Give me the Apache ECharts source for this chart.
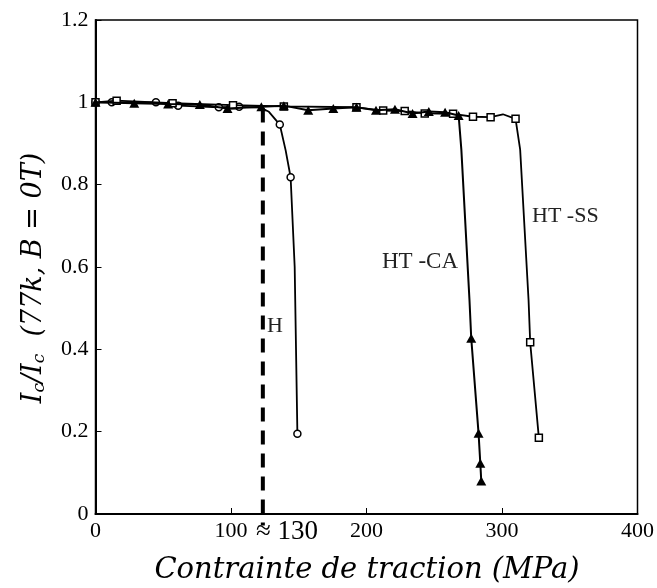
<!DOCTYPE html>
<html>
<head>
<meta charset="utf-8">
<script src="https://cdn.jsdelivr.net/npm/echarts@6/dist/echarts.min.js"></script>
<style>html,body{margin:0;padding:0;background:#fff}#c{width:657px;height:588px}</style>
</head>
<body>
<div id="c"></div>
<script>
// ---- data ----
// H (open circles); marked: 1 = drawn with a marker, 0 = curve point only
const H_x = [0, 12, 44.6, 61, 91, 106, 122, 128, 136, 140.3, 144, 147, 149];
const H_y = [1.0, 1.0, 1.0, 0.992, 0.988, 0.989, 0.987, 0.977, 0.946, 0.884, 0.818, 0.6, 0.195];
const H_m = [1, 1, 1, 1, 1, 1, 0, 0, 1, 0, 1, 0, 1];

// HT-CA (filled triangles)
const CA_x = [0, 28.6, 53.6, 77, 97.4, 122.4, 139, 157, 175.5, 192.6, 207, 221, 234, 246, 258, 268, 270, 276, 277.3, 282.7, 284, 284.7];
const CA_y = [1.0, 0.998, 0.996, 0.995, 0.985, 0.989, 0.992, 0.981, 0.985, 0.988, 0.981, 0.983, 0.973, 0.978, 0.976, 0.968, 0.885, 0.52, 0.427, 0.196, 0.123, 0.080];
const CA_m = [1, 1, 1, 1, 1, 1, 1, 1, 1, 1, 1, 1, 1, 1, 1, 1, 0, 0, 1, 1, 1, 1];

// HT-SS (open squares)
const SS_x = [0, 15.6, 56.9, 101.5, 139, 192.6, 212.3, 228.2, 243, 263.9, 278.6, 291.6, 300.7, 310, 313.4, 319.6, 320.8, 327.2];
const SS_y = [1.0, 1.004, 0.998, 0.993, 0.99, 0.988, 0.98, 0.979, 0.973, 0.972, 0.965, 0.964, 0.971, 0.96, 0.885, 0.52, 0.417, 0.185];
const SS_m = [1, 1, 1, 1, 1, 1, 1, 1, 1, 1, 1, 1, 0, 1, 0, 0, 1, 1];

// dashed threshold line
const DASH_X = 123.5;
const DASH_Y = [0.985, -0.028];

const X_TICKS = [0, 100, 200, 300, 400];
const Y_MAX = 1.2;
const SERIES_NAMES = ['H', 'HT-SS', 'HT-CA'];

function build(xs, ys, ms) {
  return xs.map((x, i) => ms[i] ? [x, ys[i]] : { value: [x, ys[i]], symbol: 'none' });
}

const chart = echarts.init(document.getElementById('c'), null, { renderer: 'canvas' });
const SERIF = '"Liberation Serif", "Times New Roman", serif';
const MATH = '"DejaVu Serif", serif';

const gridL = 95.5, gridR = 18.5, gridT = 20, gridB = 74;

chart.setOption({
  animation: false,
  backgroundColor: '#fff',
  grid: { left: gridL, right: gridR, top: gridT, bottom: gridB, show: true, borderColor: '#000', borderWidth: 1.5, backgroundColor: 'transparent' },
  xAxis: {
    type: 'value', min: X_TICKS[0], max: X_TICKS[X_TICKS.length - 1], interval: 100,
    axisLine: { show: true, onZero: false, lineStyle: { color: '#000', width: 2 } },
    axisTick: { show: true, inside: true, length: 6, lineStyle: { color: '#000', width: 1 } },
    axisLabel: { color: '#000', fontFamily: SERIF, fontSize: 22, margin: 6 },
    splitLine: { show: false }
  },
  yAxis: {
    type: 'value', min: 0, max: Y_MAX, interval: 0.2,
    axisLine: { show: true, onZero: false, lineStyle: { color: '#000', width: 2 } },
    axisTick: { show: true, inside: true, length: 6, lineStyle: { color: '#000', width: 1 } },
    axisLabel: { color: '#000', fontFamily: SERIF, fontSize: 22, margin: 7,
      formatter: v => String(Math.round(v * 10) / 10) },
    splitLine: { show: false }
  },
  series: [
    { name: SERIES_NAMES[0], type: 'line', data: build(H_x, H_y, H_m),
      symbol: 'circle', symbolSize: 7, showAllSymbol: true,
      lineStyle: { color: '#000', width: 1.8 },
      itemStyle: { color: '#fff', borderColor: '#000', borderWidth: 1.5 }, z: 3 },
    { name: SERIES_NAMES[1], type: 'line', data: build(SS_x, SS_y, SS_m),
      symbol: 'rect', symbolSize: 7, showAllSymbol: true,
      lineStyle: { color: '#000', width: 1.8 },
      itemStyle: { color: '#fff', borderColor: '#000', borderWidth: 1.5 }, z: 4 },
    { name: SERIES_NAMES[2], type: 'line', data: build(CA_x, CA_y, CA_m),
      symbol: 'triangle', symbolSize: [10, 9], showAllSymbol: true,
      lineStyle: { color: '#000', width: 2 },
      itemStyle: { color: '#000', borderColor: '#000', borderWidth: 0 }, z: 5 },
    { name: 'seuil', type: 'line', data: DASH_Y.map(y => [DASH_X, y]), clip: false,
      symbol: 'none', lineStyle: { color: '#000', width: 4, type: [14, 9] }, z: 2 }
  ],
  graphic: [
    { type: 'text', left: 267, top: 315, style: { text: 'H', font: '22px ' + SERIF, fill: '#222' } },
    { type: 'text', left: 382, top: 250, style: { text: 'HT -CA', font: '23px ' + SERIF, fill: '#222' } },
    { type: 'text', left: 532, top: 205, style: { text: 'HT -SS', font: '22px ' + SERIF, fill: '#222' } },
    { type: 'text', left: 256, top: 518, style: { text: '≈ 130', font: '27px ' + SERIF, fill: '#000' } },
    { type: 'text', x: 367, y: 570, style: { text: 'Contrainte de traction (MPa)', font: 'italic 29px ' + MATH, fill: '#000', align: 'center', verticalAlign: 'middle' } },
    { type: 'text', x: 34, y: 278, rotation: Math.PI / 2,
      style: {
        text: '{i|I}{s|c}{i|/I}{s|c}{n|  (77}{i|k}{n|, }{i|B}{n| = 0}{i|T}{n|)}',
        align: 'center', verticalAlign: 'middle',
        rich: {
          i: { fontFamily: MATH, fontStyle: 'italic', fontSize: 27, fill: '#000', color: '#000' },
          n: { fontFamily: MATH, fontStyle: 'italic', fontSize: 27, fill: '#000', color: '#000' },
          s: { fontFamily: MATH, fontStyle: 'italic', fontSize: 17, fill: '#000', color: '#000', padding: [12, 0, 0, 0] }
        }
      } }
  ]
});
</script>
</body>
</html>
